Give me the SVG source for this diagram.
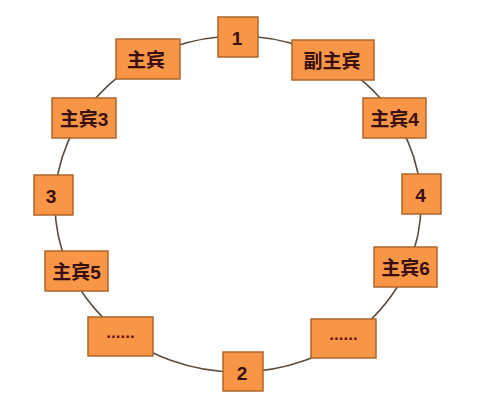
<svg xmlns="http://www.w3.org/2000/svg" width="500" height="401" viewBox="0 0 500 401">
<style>
.box{fill:#F79646;stroke:#B0652A;stroke-width:1.5}
.t{font-family:"Liberation Sans","Noto Sans CJK SC",sans-serif;font-weight:bold;font-size:19px;fill:#3A0E0E;text-anchor:middle;dominant-baseline:central}
.d{font-size:17px;fill:#6A1010}
.ring{fill:none;stroke:#5A4E40;stroke-width:1.6}
</style>
<rect width="500" height="401" fill="#FFFFFF"/>
<g id="connectors">
<ellipse class="ring" cx="238" cy="204" rx="183" ry="168"/>
</g>
<g id="n1"><rect class="box" x="218" y="17" width="40" height="40"/><text class="t" x="237" y="38">1</text></g>
<g id="zhubin"><rect class="box" x="116" y="39" width="64" height="40"/><text class="t" x="146" y="60">主宾</text></g>
<g id="fuzhubin"><rect class="box" x="292" y="40" width="82" height="40"/><text class="t" x="332" y="61">副主宾</text></g>
<g id="zhubin3"><rect class="box" x="52" y="98" width="64" height="40"/><text class="t" x="84" y="119">主宾3</text></g>
<g id="zhubin4"><rect class="box" x="363" y="98" width="63" height="40"/><text class="t" x="394.5" y="119">主宾4</text></g>
<g id="n3"><rect class="box" x="34" y="175" width="39" height="40"/><text class="t" x="51" y="196">3</text></g>
<g id="n4"><rect class="box" x="402" y="174" width="39" height="40"/><text class="t" x="420.5" y="195">4</text></g>
<g id="zhubin5"><rect class="box" x="45" y="251" width="63" height="40"/><text class="t" x="76.5" y="272">主宾5</text></g>
<g id="zhubin6"><rect class="box" x="374" y="247" width="63" height="40"/><text class="t" x="405.5" y="268">主宾6</text></g>
<g id="dotsL"><rect class="box" x="88" y="317" width="65" height="39"/><text class="t d" x="120.5" y="332">......</text></g>
<g id="n2"><rect class="box" x="223" y="352" width="40" height="39"/><text class="t" x="242" y="373">2</text></g>
<g id="dotsR"><rect class="box" x="311" y="319" width="65" height="39"/><text class="t d" x="343.5" y="334">......</text></g>
</svg>
